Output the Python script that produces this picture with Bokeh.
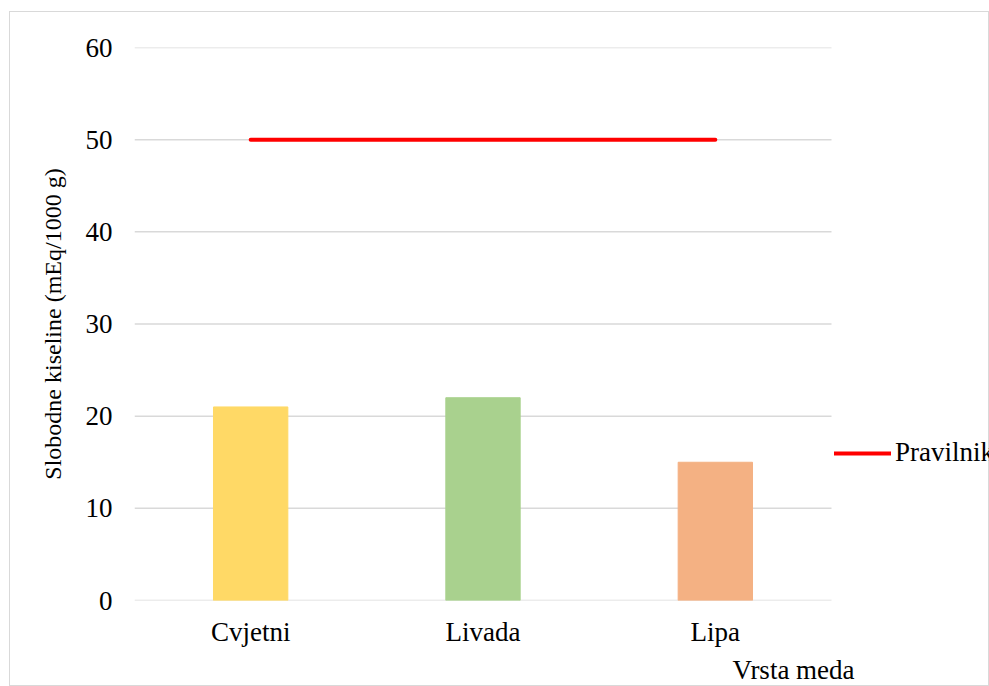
from bokeh.plotting import figure
from bokeh.models import Legend, LegendItem, Title, ColumnDataSource, Range1d, FixedTicker
from bokeh.embed import file_html
from bokeh.resources import INLINE

categories = ["Cvjetni", "Livada", "Lipa"]
acidity = [21, 22, 15]
limit = [50, 50, 50]
bar_colors = ["#FFD966", "#A9D18E", "#F4B183"]
y_ticks = [0, 10, 20, 30, 40, 50, 60]

FONT = "Liberation Serif"

# category slots 0..3 occupy 697 px; the frame continues to the right edge for the legend
n = len(categories)
positions = [i + 0.5 for i in range(n)]
slot_px = 697 / n
frame_px = 980 - 124

p = figure(x_range=Range1d(0, frame_px / slot_px), y_range=Range1d(0, 60),
           width=980, height=675, output_backend="svg", toolbar_location=None,
           min_border_left=124, min_border_right=0, min_border_top=35, min_border_bottom=84)
p.styles = {"border": "1px solid #d9d9d9", "box-sizing": "border-box",
            "margin-left": "9px", "margin-top": "11px"}
p.outline_line_color = None
p.background_fill_color = "white"
p.border_fill_color = "white"
p.xgrid.grid_line_color = None
p.ygrid.grid_line_color = None

# horizontal gridlines across the category area only
p.segment(x0=[0] * len(y_ticks), x1=[n] * len(y_ticks), y0=y_ticks, y1=y_ticks,
          line_color="#d9d9d9", line_width=1.5)

src = ColumnDataSource(dict(x=positions, val=acidity, color=bar_colors))
p.vbar(x="x", top="val", width=0.32, color="color", source=src)

line = p.line(x=positions, y=limit, line_color="#FF0000", line_width=4, line_cap="round")

p.yaxis.ticker = y_ticks
p.xaxis.ticker = FixedTicker(ticks=positions)
p.xaxis.major_label_overrides = {pos: cat for pos, cat in zip(positions, categories)}

for ax in (p.xaxis[0], p.yaxis[0]):
    ax.axis_line_color = None
    ax.major_tick_line_color = None
    ax.minor_tick_line_color = None
    ax.major_tick_out = 0
    ax.major_tick_in = 0
    ax.major_label_text_font = FONT
    ax.major_label_text_font_size = "27px"
    ax.major_label_text_color = "#000000"
    ax.axis_label_text_font = FONT
    ax.axis_label_text_font_style = "normal"
    ax.axis_label_text_font_size = "24px"
    ax.axis_label_text_color = "#000000"

p.yaxis.major_label_standoff = 22
p.xaxis.major_label_standoff = 16
p.yaxis.axis_label = "Slobodne kiseline (mEq/1000 g)"
p.yaxis.axis_label_standoff = 17

xt = Title(text="Vrsta meda", align="left", offset=598, text_font=FONT,
           text_font_size="27px", text_font_style="normal", text_color="#000000",
           standoff=6)
p.add_layout(xt, "below")

legend = Legend(items=[LegendItem(label="Pravilnik", renderers=[line])],
                location=(700, 132), glyph_width=57, glyph_height=20,
                label_text_font=FONT, label_text_font_size="27px",
                label_text_color="#000000",
                label_standoff=4, padding=0, margin=0, spacing=0,
                border_line_color=None, background_fill_alpha=0)
p.add_layout(legend, "center")

open("out.html", "w").write(file_html(p, INLINE))
